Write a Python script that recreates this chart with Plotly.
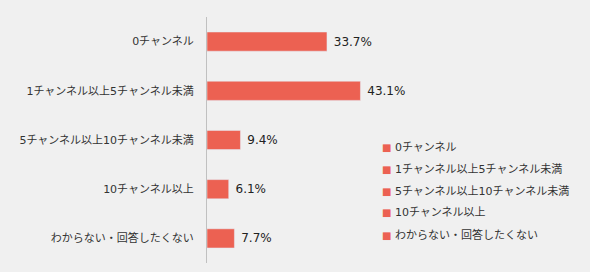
import plotly.graph_objects as go

categories = ["0チャンネル", "1チャンネル以上5チャンネル未満", "5チャンネル以上10チャンネル未満",
              "10チャンネル以上", "わからない・回答したくない"]
values = [33.7, 43.1, 9.4, 6.1, 7.7]
labels = ["33.7%", "43.1%", "9.4%", "6.1%", "7.7%"]

BAR = "#ec6152"
FONT = "DejaVu Sans, Noto Sans CJK JP, sans-serif"

fig = go.Figure()
fig.add_trace(go.Bar(
    y=categories, x=values, orientation="h", marker_color=BAR,
    text=labels, texttemplate=" %{text}", textposition="outside", cliponaxis=False,
    textfont=dict(size=12, color="#222222", family=FONT),
    width=0.39, showlegend=False,
))

# legend drawn as annotations (square marker + label)
for i, c in enumerate(categories):
    fig.add_annotation(
        xref="paper", yref="paper", x=0.487, y=0.47 - i * 0.0888,
        xanchor="left", yanchor="middle", showarrow=False,
        text=f"<span style='color:{BAR};font-size:10px'>■</span> {c}",
        font=dict(size=11, color="#333333", family=FONT),
    )

fig.update_layout(
    width=590, height=272,
    margin=dict(l=207, r=27, t=17, b=9, autoexpand=False),
    paper_bgcolor="#f0f0f0", plot_bgcolor="#f0f0f0",
    font=dict(family=FONT, size=11, color="#333333"),
    xaxis=dict(range=[0, 100], visible=False, showgrid=False, zeroline=False),
    yaxis=dict(categoryorder="array", categoryarray=categories, autorange="reversed",
               showline=True, linecolor="#c0c0c0", linewidth=1, showgrid=False,
               ticks="", ticklabelstandoff=10, tickfont=dict(size=11, color="#333333")),
    showlegend=False,
)

fig.write_html("out.html")
